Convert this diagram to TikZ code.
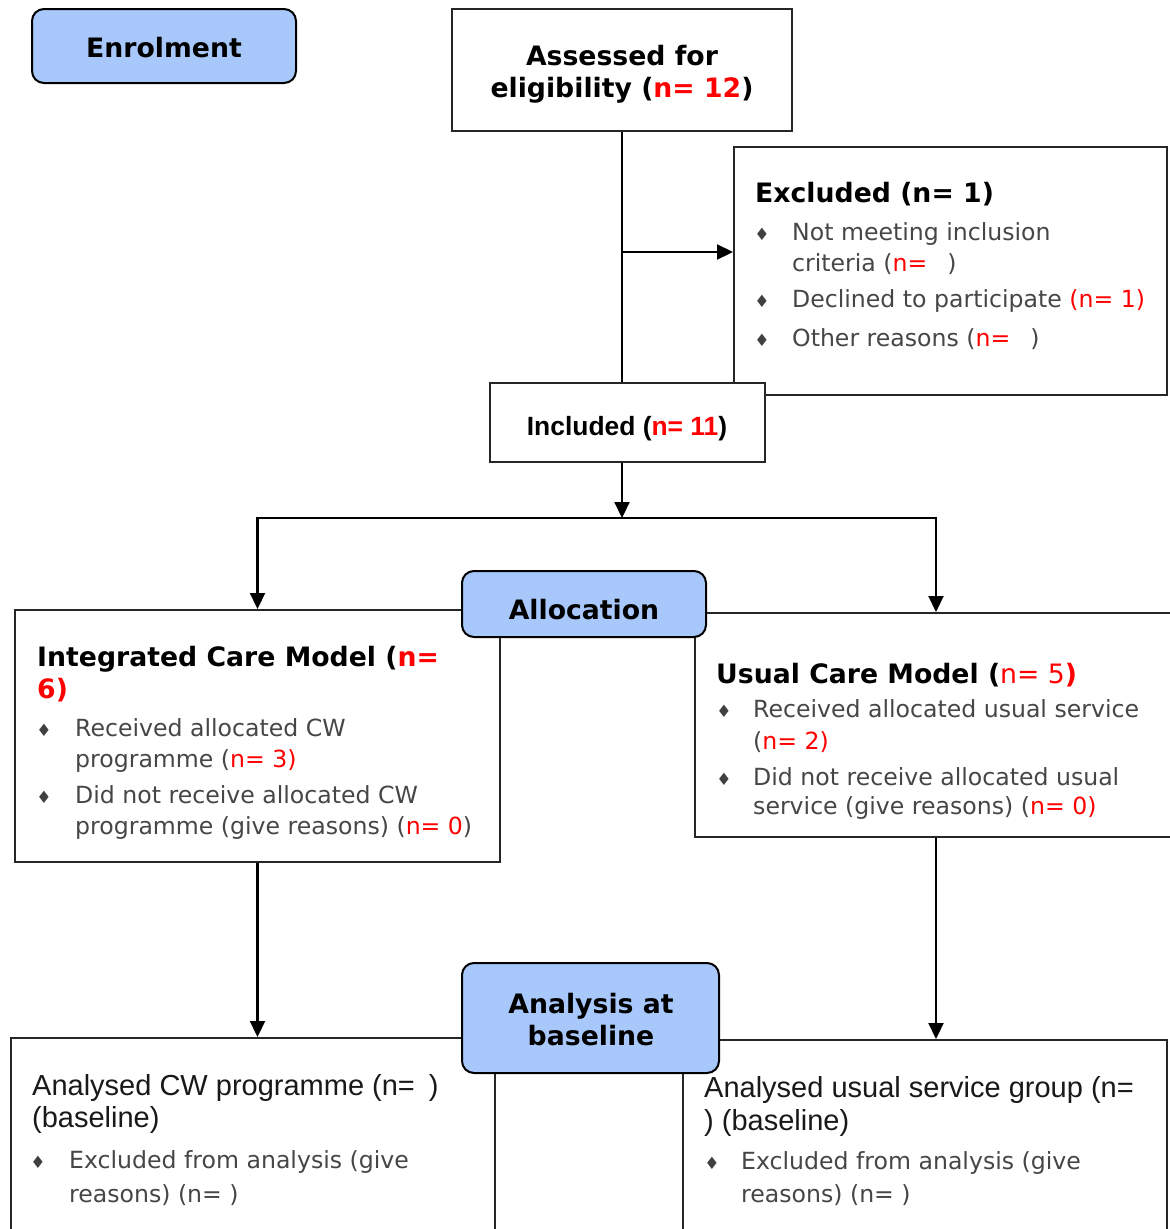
\documentclass[tikz,border=0pt]{standalone}
\usepackage{fontspec}
\setmainfont{DejaVu Sans}
\newfontfamily\arialf{Liberation Sans}
\usetikzlibrary{arrows.meta}
\definecolor{bluefill}{RGB}{168,199,250}
\definecolor{txtgray}{RGB}{70,70,70}
\definecolor{nred}{RGB}{255,0,0}
\newcommand{\hdfont}{\fontsize{26.7}{32}\selectfont\bfseries}
\newcommand{\btfont}{\fontsize{23.6}{31}\selectfont}
\newcommand{\arfont}{\arialf\fontsize{29}{33}\selectfont}
\newcommand{\rn}[1]{\textcolor{nred}{#1}}
\begin{document}
\begin{tikzpicture}[x=1pt,y=-1pt,
  box/.style={draw=black!85, line width=2pt, fill=white, inner sep=0pt},
  phase/.style={draw=black, line width=2pt, fill=bluefill, rounded corners=12pt, inner sep=0pt},
  conn/.style={line width=2.2pt, draw=black},
  arr/.style={conn, -{Triangle[length=16pt,width=15pt]}},
  hd/.style={inner sep=0pt, font=\hdfont, text=black},
  hdl/.style={hd, anchor=base west},
  hdc/.style={hd, anchor=base},
  bt/.style={anchor=base west, inner sep=0pt, font=\btfont, text=txtgray},
  bul/.style={anchor=base, inner sep=0pt, font=\fontsize{17}{17}\selectfont, text=black!75},
  ar/.style={anchor=base west, inner sep=0pt, font=\arfont, text=black!90},
]
\useasboundingbox (0,0) rectangle (1170,1229);

% ---- boxes ----
\node[box, minimum width=340pt, minimum height=122pt] (assessed) at (622,70) {};
\node[box, minimum width=433pt, minimum height=248pt] (excluded) at (950.5,271) {};
\node[box, minimum width=275pt, minimum height=79pt] (included) at (627.5,422.5) {};
\node[box, minimum width=485pt, minimum height=252pt] (integrated) at (257.5,736) {};
\node[box, minimum width=482pt, minimum height=224pt] (usual) at (936,725) {};
\node[box, minimum width=484pt, minimum height=202pt] (bl) at (253,1139) {};
\node[box, minimum width=484pt, minimum height=200pt] (br) at (925,1140) {};

% ---- connectors ----
\draw[conn] (assessed.south) -- (assessed.south |- included.north);
\coordinate (j1) at (622,252);
\draw[arr] (j1) -- (j1 -| excluded.west);
\coordinate (split) at (622,518);
\draw[arr] (split |- included.south) -- (split);
\draw[arr] (split) -| (integrated.north);
\draw[arr] (split) -| (usual.north);
\draw[arr] (integrated.south) -- (integrated.south |- bl.north);
\draw[arr] (usual.south) -- (usual.south |- br.north);

% ---- phase boxes ----
\node[phase, minimum width=264pt, minimum height=74pt] (enrol) at (164,46) {};
\node[phase, minimum width=244pt, minimum height=66pt] (alloc) at (584,604) {};
\node[phase, minimum width=257pt, minimum height=110pt] (analysis) at (590.5,1018) {};

% ---- texts ----
\node[hdc] (enrolT) at (164,57) {Enrolment};
\node[hdc] (allocT) at (584,619) {Allocation};
\node[hdc] (anaT1) at (591,1013) {Analysis at};
\node[hdc] (anaT2) at (591,1045) {baseline};

\node[hdc] (assT1) at (622,65) {Assessed for};
\node[hdc] (assT2) at (622,97) {eligibility (\rn{n= 12})};

\node[anchor=base, inner sep=0pt, font=\arialf\fontsize{26.4}{30}\selectfont\bfseries] (incT) at (627,435) {Included (\rn{n= 11})};

\node[hdl] (exH) at (755,202) {Excluded (n= 1)};
\node[bul] (exB1) at (762,240) {♦};
\node[bt] (ex1a) at (792,240) {Not meeting inclusion};
\node[bt] (ex1b) at (792,271) {criteria (\rn{n=}\hspace{20pt})};
\node[bul] (exB2) at (762,307) {♦};
\node[bt] (ex2) at (792,307) {Declined to participate \rn{(n= 1)}};
\node[bul] (exB3) at (762,346) {♦};
\node[bt] (ex3) at (792,346) {Other reasons (\rn{n=}\hspace{20pt})};

\node[hdl] (inH1) at (37,666) {Integrated Care Model (\rn{n=}};
\node[hdl] (inH2) at (37,698) {\rn{6)}};
\node[bul] (inB1) at (44,736) {♦};
\node[bt] (in1a) at (75,736) {Received allocated CW};
\node[bt] (in1b) at (75,767) {programme (\rn{n= 3)}};
\node[bul] (inB2) at (44,803) {♦};
\node[bt] (in2a) at (75,803) {Did not receive allocated CW};
\node[bt] (in2b) at (75,834) {programme (give reasons) (\rn{n= 0})};

\node[hdl] (usH) at (716,683) {Usual Care Model (\rn{{\mdseries n= 5})}};
\node[bul] (usB1) at (724,717) {♦};
\node[bt] (us1a) at (753,717) {Received allocated usual service};
\node[bt] (us1b) at (753,749) {(\rn{n= 2)}};
\node[bul] (usB2) at (724,785) {♦};
\node[bt] (us2a) at (753,785) {Did not receive allocated usual};
\node[bt] (us2b) at (753,814) {service (give reasons) (\rn{n= 0)}};

\node[ar] (blT1) at (32,1095) {Analysed CW programme (n=\hspace{14pt})};
\node[ar] (blT2) at (32,1127) {(baseline)};
\node[bul] (blB) at (38,1168) {♦};
\node[bt] (bl1a) at (69,1168) {Excluded from analysis (give};
\node[bt] (bl1b) at (69,1202) {reasons) (n= )};

\node[ar] (brT1) at (704,1097) {Analysed usual service group (n=};
\node[ar] (brT2) at (704,1130) {) (baseline)};
\node[bul] (brB) at (712,1169) {♦};
\node[bt] (br1a) at (741,1169) {Excluded from analysis (give};
\node[bt] (br1b) at (741,1202) {reasons) (n= )};
\end{tikzpicture}
\end{document}
